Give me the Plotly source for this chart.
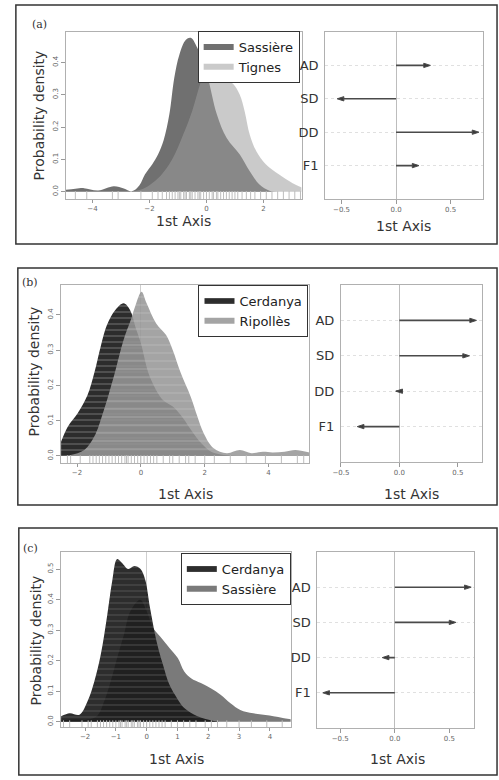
import plotly.graph_objects as go

# density curves (x on 1st axis, probability density)
sass_a_x = [-4.93, -4.6, -4.3, -3.8, -3.25, -2.9, -2.62, -2.35, -2.16, -1.9, -1.7, -1.5, -1.3, -1.13, -0.95, -0.72, -0.55, -0.32, 0.02, 0.37, 0.71, 1.17, 1.52, 1.86, 2.21, 2.5]
sass_a_y = [0.006, 0.009, 0.011, 0.004, 0.017, 0.01, 0.001, 0.02, 0.053, 0.085, 0.115, 0.16, 0.24, 0.352, 0.424, 0.47, 0.476, 0.445, 0.362, 0.238, 0.166, 0.115, 0.063, 0.022, 0.003, 0.0]
tign_a_x = [-2.6, -2.2, -2.0, -1.6, -1.2, -0.8, -0.5, -0.2, 0.1, 0.25, 0.43, 0.71, 0.94, 1.17, 1.34, 1.52, 1.75, 2.09, 2.55, 3.01, 3.34]
tign_a_y = [0.0, 0.01, 0.02, 0.05, 0.1, 0.18, 0.25, 0.34, 0.415, 0.393, 0.367, 0.347, 0.333, 0.30, 0.249, 0.176, 0.125, 0.084, 0.053, 0.027, 0.013]

cerd_b_x = [-2.5, -2.29, -1.98, -1.67, -1.46, -1.26, -1.06, -0.8, -0.54, -0.34, -0.15, 0.0, 0.28, 0.69, 1.0, 1.3, 1.6, 1.9, 2.2, 2.6, 3.0]
cerd_b_y = [0.04, 0.083, 0.121, 0.173, 0.235, 0.31, 0.372, 0.414, 0.433, 0.414, 0.36, 0.32, 0.225, 0.159, 0.14, 0.11, 0.07, 0.035, 0.012, 0.003, 0.0]
ripo_b_x = [-2.5, -2.2, -1.77, -1.46, -1.16, -0.85, -0.54, -0.3, -0.18, 0.02, 0.18, 0.48, 0.79, 1.0, 1.25, 1.56, 1.77, 1.97, 2.28, 2.69, 3.1, 3.46, 3.82, 4.12, 4.5, 4.84, 5.28]
ripo_b_y = [0.0, 0.003, 0.017, 0.055, 0.13, 0.225, 0.33, 0.39, 0.424, 0.466, 0.433, 0.376, 0.343, 0.30, 0.235, 0.168, 0.112, 0.064, 0.022, 0.008, 0.017, 0.008, 0.012, 0.01, 0.012, 0.017, 0.01]

sass_c_x = [-2.78, -2.3, -1.9, -1.6, -1.38, -1.17, -0.96, -0.74, -0.53, -0.21, 0.0, 0.21, 0.43, 0.74, 1.01, 1.22, 1.44, 1.76, 2.08, 2.40, 2.72, 3.04, 3.46, 3.99, 4.68]
sass_c_y = [0.005, 0.008, 0.008, 0.02, 0.067, 0.132, 0.209, 0.285, 0.362, 0.40, 0.362, 0.307, 0.28, 0.242, 0.209, 0.165, 0.143, 0.127, 0.11, 0.089, 0.061, 0.039, 0.028, 0.021, 0.008]
cerd_c_x = [-2.78, -2.5, -2.18, -1.92, -1.70, -1.49, -1.28, -1.12, -0.96, -0.8, -0.6, -0.4, -0.2, -0.05, 0.11, 0.32, 0.53, 0.74, 1.0, 1.22, 1.65, 2.18, 2.6]
cerd_c_y = [0.018, 0.028, 0.023, 0.067, 0.132, 0.22, 0.35, 0.46, 0.533, 0.52, 0.50, 0.51, 0.50, 0.466, 0.373, 0.264, 0.187, 0.121, 0.075, 0.045, 0.018, 0.003, 0.0]

# rug of observations under each density plot
rug_a = [-4.6, -4.2, -3.3, -3.1, -2.3, -1.9, -1.7, -1.55, -1.4, -1.3, -1.2, -1.1, -1.0, -0.95, -0.9, -0.8, -0.75, -0.7, -0.6,
         -0.55, -0.5, -0.4, -0.3, -0.25, -0.2, -0.1, 0.0, 0.1, 0.2, 0.25, 0.35, 0.4, 0.5, 0.6, 0.7, 0.8, 0.9, 1.0, 1.1, 1.25,
         1.4, 1.55, 1.7, 1.9, 2.1, 2.3, 2.5, 2.7, 2.9, 3.1, 3.3]
rug_b = [-2.3, -2.2, -1.9, -1.6, -1.5, -1.4, -1.3, -1.2, -1.1, -1.0, -0.9, -0.8, -0.7, -0.6, -0.5, -0.45, -0.4, -0.3, -0.2,
         -0.1, 0.0, 0.1, 0.2, 0.3, 0.4, 0.5, 0.7, 0.9, 1.0, 1.2, 1.4, 1.5, 1.7, 2.0, 2.3, 2.8, 3.3, 3.9, 4.4, 4.9, 5.1]
rug_c = [-2.7, -2.5, -2.1, -1.9, -1.8, -1.6, -1.5, -1.4, -1.3, -1.2, -1.1, -1.0, -0.9, -0.85, -0.8, -0.7, -0.65, -0.6, -0.5,
         -0.45, -0.4, -0.3, -0.25, -0.2, -0.1, 0.0, 0.1, 0.2, 0.3, 0.4, 0.5, 0.6, 0.8, 1.0, 1.2, 1.4, 1.6, 1.9, 2.1, 2.3, 2.6,
         3.0, 3.4, 3.9, 4.4]

# loadings on the 1st axis
variables = ['AD', 'SD', 'DD', 'F1']
load_a = [0.315, -0.54, 0.76, 0.21]
load_b = [0.66, 0.60, -0.03, -0.36]
load_c = [0.70, 0.56, -0.115, -0.66]

W, H = 499, 780
FONT = 'DejaVu Sans'


def px(p):
    return p / W


def py(p):
    return 1 - p / H


fig = go.Figure()

# ---- panel (a)
fig.add_trace(go.Scatter(x=sass_a_x, y=sass_a_y, mode='none', fill='tozeroy', line_shape='spline',
                         fillcolor='#707070', name='Sassière', xaxis='x', yaxis='y', legend='legend'))
fig.add_trace(go.Scatter(x=tign_a_x, y=tign_a_y, mode='none', fill='tozeroy', line_shape='spline',
                         fillcolor='rgba(157,157,157,0.54)', name='Tignes', xaxis='x', yaxis='y', legend='legend'))

# ---- panel (b)
fig.add_trace(go.Scatter(x=cerd_b_x, y=cerd_b_y, mode='none', fill='tozeroy', line_shape='spline',
                         fillcolor='#2c2c2c', fillpattern=dict(shape='-', bgcolor='#2c2c2c', fgcolor='#8a8a8a', size=6, solidity=0.25),
                         name='Cerdanya', xaxis='x3', yaxis='y3', legend='legend2'))
fig.add_trace(go.Scatter(x=ripo_b_x, y=ripo_b_y, mode='none', fill='tozeroy', line_shape='spline',
                         fillcolor='rgba(151,151,151,0.87)', fillpattern=dict(shape='-', bgcolor='rgba(151,151,151,0.87)', fgcolor='rgba(200,200,200,0.8)', size=8, solidity=0.15),
                         name='Ripollès', xaxis='x3', yaxis='y3', legend='legend2'))

# ---- panel (c)
fig.add_trace(go.Scatter(x=sass_c_x, y=sass_c_y, mode='none', fill='tozeroy', line_shape='spline',
                         fillcolor='#7a7a7a', name='Sassière', xaxis='x5', yaxis='y5', legend='legend3'))
fig.add_trace(go.Scatter(x=cerd_c_x, y=cerd_c_y, mode='none', fill='tozeroy', line_shape='spline',
                         fillcolor='rgba(22,22,22,0.9)', fillpattern=dict(shape='-', bgcolor='rgba(22,22,22,0.9)', fgcolor='#6a6a6a', size=6, solidity=0.2),
                         name='Cerdanya', xaxis='x5', yaxis='y5', legend='legend3'))

# rugs
for rug, xa, ya, yv in [(rug_a, 'x', 'y', -0.011), (rug_b, 'x3', 'y3', -0.01), (rug_c, 'x5', 'y5', -0.009)]:
    fig.add_trace(go.Scatter(x=rug, y=[yv] * len(rug), mode='markers', xaxis=xa, yaxis=ya, showlegend=False,
                             marker=dict(symbol='line-ns', size=6, line=dict(width=1, color='#bdbdbd'))))

# arrows
for loads, xa, ya in [(load_a, 'x2', 'y2'), (load_b, 'x4', 'y4'), (load_c, 'x6', 'y6')]:
    for v, val in zip(variables, loads):
        fig.add_trace(go.Scatter(x=[0, val], y=[v, v], mode='lines+markers', xaxis=xa, yaxis=ya, showlegend=False,
                                 line=dict(color='#4a4a4a', width=1.6),
                                 marker=dict(symbol='arrow', angleref='previous', size=[0, 7],
                                             opacity=[0, 1], color='#3a3a3a')))

tickfont = dict(family=FONT, size=7, color='#666')
left_axes = [
    ('', (58, 298), (32, 199), [-4.93, 3.34], [-0.0226, 0.494], [-4, -2, 0, 2], [0, 0.1, 0.2, 0.3, 0.4]),
    ('3', (53, 306), (285, 463), [-2.5, 5.28], [-0.02, 0.485], [-2, 0, 2, 4], [0, 0.1, 0.2, 0.3, 0.4]),
    ('5', (53, 287), (552, 727), [-2.78, 4.68], [-0.017, 0.556], [-2, -1, 0, 1, 2, 3, 4], [0, 0.1, 0.2, 0.3, 0.4, 0.5]),
]
right_axes = [
    ('2', (322, 483), (32, 199), [-0.65, 0.80]),
    ('4', (338, 482), (285, 462), [-0.5, 0.71]),
    ('6', (314, 474), (552, 728), [-0.71, 0.73]),
]

lay = {}
for n, (x0, x1), (y0, y1), xr, yr, xt, yt in left_axes:
    lay['xaxis' + n] = dict(domain=[px(x0), px(x1)], range=xr, anchor='y' + n, tickvals=xt, tickfont=tickfont,
                            ticks='outside', ticklen=3, tickcolor='#999', showline=True, linecolor='#b0b0b0',
                            mirror=True, showgrid=False, zeroline=True, zerolinecolor='#cfcfcf', zerolinewidth=1)
    lay['yaxis' + n] = dict(domain=[py(y1), py(y0)], range=yr, anchor='x' + n, tickvals=yt, tickformat='.1f',
                            tickfont=tickfont, tickangle=-90, ticks='outside', ticklen=4, tickcolor='#999',
                            showline=True, linecolor='#b0b0b0', mirror=True, showgrid=False, zeroline=False)
for n, (x0, x1), (y0, y1), xr in right_axes:
    lay['xaxis' + n] = dict(domain=[px(x0), px(x1)], range=xr, anchor='y' + n, tickvals=[-0.5, 0, 0.5],
                            tickformat='.1f', tickfont=tickfont, ticks='outside', ticklen=4, tickcolor='#999',
                            showline=True, linecolor='#b0b0b0', mirror=True, showgrid=False,
                            zeroline=True, zerolinecolor='#bdbdbd', zerolinewidth=1)
    lay['yaxis' + n] = dict(domain=[py(y1), py(y0)], range=[-1, 4], anchor='x' + n, type='category',
                            categoryorder='array', categoryarray=variables[::-1],
                            tickfont=dict(family=FONT, size=13, color='#333'), ticks='', ticklabelstandoff=3,
                            showline=True, linecolor='#b0b0b0', mirror=True, showgrid=True,
                            gridcolor='#e0e0e0', griddash='dot', zeroline=False)
fig.update_layout(**lay)

legfont = dict(family=FONT, size=13, color='#222')
leg = dict(font=legfont, bgcolor='white', bordercolor='#333', borderwidth=1, xref='paper', yref='paper',
           xanchor='right', yanchor='top', itemwidth=30, tracegroupgap=0)
fig.update_layout(
    legend=dict(leg, x=px(296), y=py(31)),
    legend2=dict(leg, x=px(305), y=py(285)),
    legend3=dict(leg, x=px(287), y=py(553), traceorder='reversed'),
)

# axis titles and panel letters
notes = []
for (cx, cy) in [(178, 221), (402, 226), (180, 494), (410, 494), (171, 759), (396, 759)]:
    notes.append(dict(x=px(cx), y=py(cy), text='1st Axis', font=dict(family=FONT, size=14, color='#333')))
for (cx, cy) in [(31, 115), (25, 372), (28, 640)]:
    notes.append(dict(x=px(cx), y=py(cy), text='Probability density', textangle=-90,
                      font=dict(family=FONT, size=14, color='#333')))
for (cx, cy, t) in [(31, 25, '(a)'), (21, 282, '(b)'), (22, 548, '(c)')]:
    notes.append(dict(x=px(cx), y=py(cy), text=t, font=dict(family='DejaVu Serif', size=11, color='#333')))
for a in notes:
    a.update(xref='paper', yref='paper', showarrow=False, xanchor='center', yanchor='middle')

# panel frames
frames = [(7, 5, 497, 244), (9, 268, 497, 505), (10, 528, 497, 775)]
shapes = [dict(type='rect', xref='paper', yref='paper', x0=px(a), x1=px(c), y0=py(d), y1=py(b),
               line=dict(color='#333', width=1.5)) for a, b, c, d in frames]

fig.update_layout(width=W, height=H, margin=dict(l=0, r=0, t=0, b=0), paper_bgcolor='white',
                  plot_bgcolor='white', annotations=notes, shapes=shapes, font=dict(family=FONT))

# page body has a default 8px margin, drop it so the figure sits at the corner
fig.write_html("out.html", config={'displayModeBar': False},
               post_script="document.body.style.margin='0';document.body.style.overflow='hidden';")
